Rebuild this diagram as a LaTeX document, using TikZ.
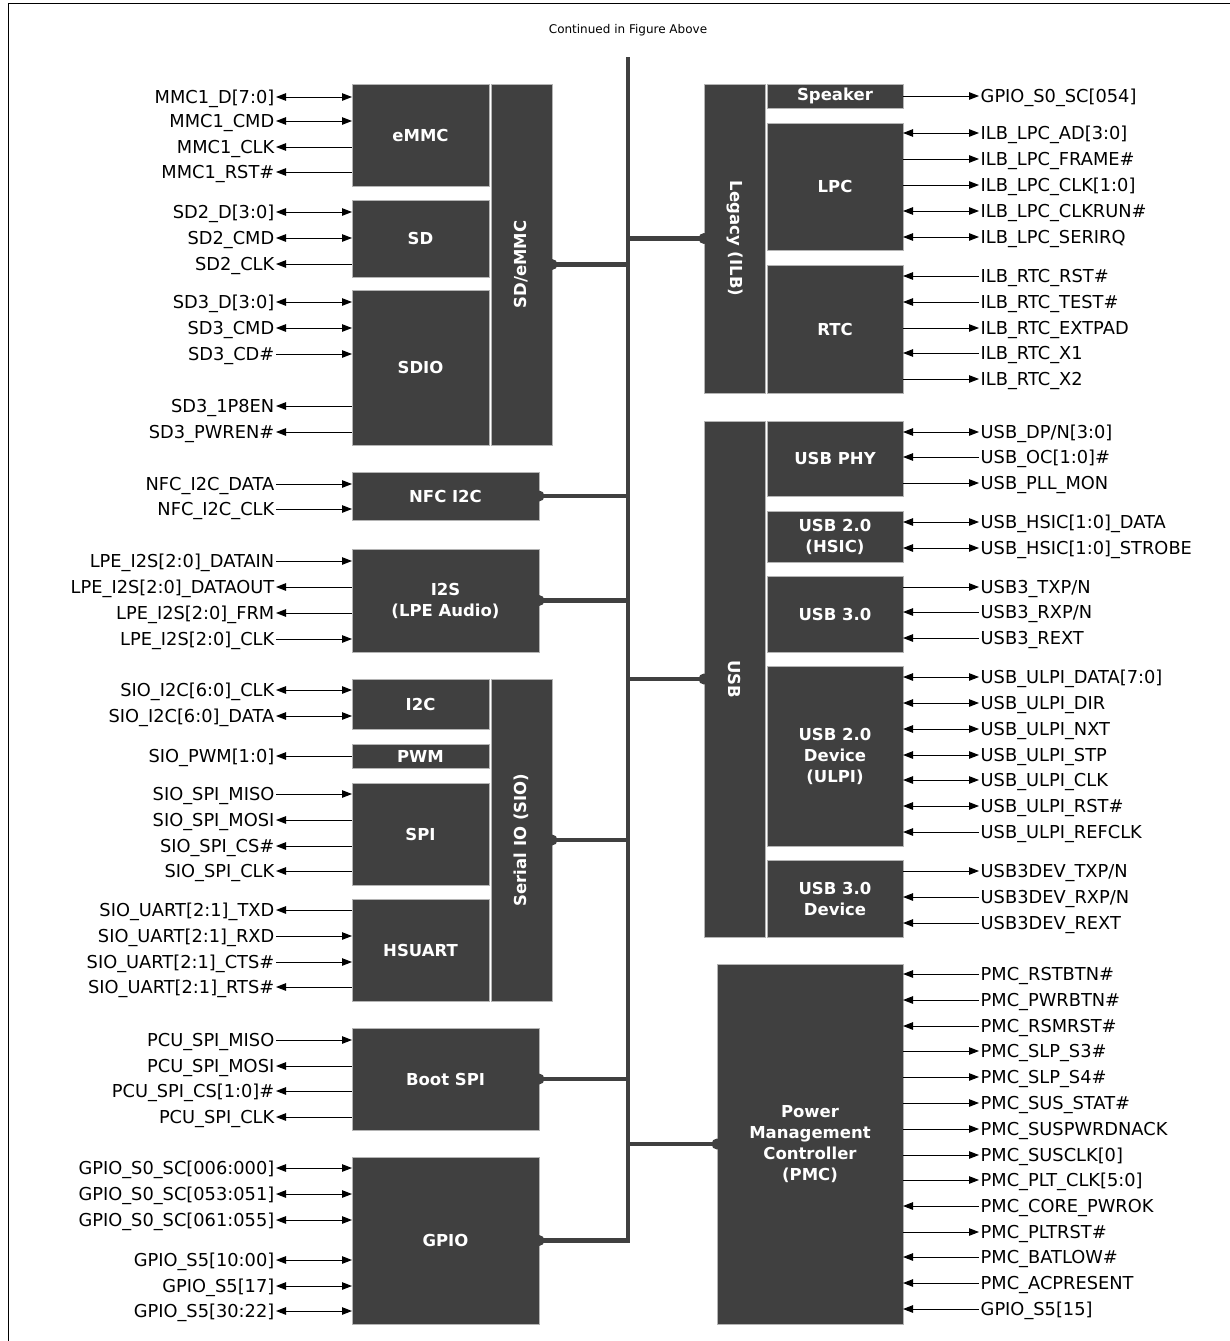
\documentclass[tikz,border=0pt]{standalone}
\usepackage{fontspec}
\setmainfont{DejaVu Sans}
\usepackage{graphicx}
\usetikzlibrary{arrows.meta}
\definecolor{boxgray}{HTML}{404040}
\definecolor{edgegray}{HTML}{B4B4B4}

\newcommand\Blk[6]{\node[blk,anchor=north west,minimum width={(#4-#2)*1pt},minimum height={(#5-#3)*1pt}] (#1) at (#2,#3) {#6};}
\newcommand\Lsig[5]{\node[sigtxt,anchor=east] (#1) at (276,#2) {#5};
  \draw[sigline,#3] (#1.east) -- (#1.east -| #4.west);}
\newcommand\Rsig[5]{\node[sigtxt,anchor=west] (#1) at (979,#2) {#5};
  \draw[sigline,#3] (#4.east |- #1.west) -- (#1.west);}

\begin{document}
\begin{tikzpicture}[x=1pt,y=-1pt,
  >={Triangle[length=10pt,width=7.5pt]},
  blk/.style={fill=boxgray,draw=edgegray,line width=0.8pt,inner sep=0pt,outer sep=0pt,
    text=white,font=\bfseries\fontsize{16.5}{21}\selectfont,align=center},
  sigtxt/.style={font=\fontsize{17.8}{20}\selectfont,inner sep=1.5pt,text height=13pt,text depth=1pt},
  sigline/.style={line width=1pt,black},
  bus/.style={line width=4.5pt,boxgray},
  dot/.style={fill=boxgray}]
\useasboundingbox (0,0) rectangle (1230,1341);
\draw[line width=1pt] (8,1341) -- (8,3) -- (1230,3);
\node[font=\fontsize{12}{14}\selectfont] (cont) at (628,30) {Continued in Figure Above};

% left blocks
\Blk{emmc}{352}{84}{489}{186}{eMMC}
\Blk{sd}{352}{200}{489}{277}{SD}
\Blk{sdio}{352}{290}{489}{445}{SDIO}
\Blk{sdemmc}{491}{84}{552}{445}{\rotatebox{90}{SD/eMMC}}
\Blk{nfc}{352}{472}{539}{520}{NFC I2C}
\Blk{i2s}{352}{549}{539}{652}{I2S\\(LPE Audio)}
\Blk{i2c}{352}{679}{489}{729}{I2C}
\Blk{pwm}{352}{744}{489}{768}{PWM}
\Blk{spi}{352}{783}{489}{885}{SPI}
\Blk{hsuart}{352}{899}{489}{1001}{HSUART}
\Blk{sio}{491}{679}{552}{1001}{\rotatebox{90}{Serial IO (SIO)}}
\Blk{bootspi}{352}{1028}{539}{1130}{Boot SPI}
\Blk{gpio}{352}{1157}{539}{1324}{GPIO}

% right blocks
\Blk{legacy}{704}{84}{765}{393}{\rotatebox{-90}{Legacy (ILB)}}
\Blk{speaker}{767}{84}{903}{108}{\raisebox{-1.5pt}{Speaker}}
\Blk{lpc}{767}{123}{903}{250}{LPC}
\Blk{rtc}{767}{265}{903}{393}{RTC}
\Blk{usb}{704}{421}{765}{937}{\rotatebox{-90}{USB}}
\Blk{usbphy}{767}{421}{903}{496}{USB PHY}
\Blk{hsic}{767}{511}{903}{562}{USB 2.0\\(HSIC)}
\Blk{usbiii}{767}{576}{903}{652}{USB 3.0}
\Blk{ulpi}{767}{666}{903}{846}{USB 2.0\\Device\\(ULPI)}
\Blk{usbdev}{767}{860}{903}{937}{USB 3.0\\Device}
\Blk{pmc}{717}{964}{903}{1324}{Power\\Management\\Controller\\(PMC)}

% bus
\coordinate (bt) at (628,57);
\draw[bus] (bt) |- (gpio.east);
\foreach \b in {sdemmc,nfc,i2s,sio,bootspi}{
  \draw[bus] (\b.east) -- (\b.east -| bt);
  \fill[dot] (\b.east) circle (5.5pt);}
\foreach \b in {legacy,usb,pmc}{
  \draw[bus] (\b.west) -- (\b.west -| bt);
  \fill[dot] (\b.west) circle (5.5pt);}
\fill[dot] (gpio.east) circle (5.5pt);

% left signals
\Lsig{m1}{97}{<->}{emmc}{MMC1\_D[7:0]}
\Lsig{m2}{121}{<->}{emmc}{MMC1\_CMD}
\Lsig{m3}{147}{<-}{emmc}{MMC1\_CLK}
\Lsig{m4}{172}{<-}{emmc}{MMC1\_RST\#}
\Lsig{s1}{212}{<->}{sd}{SD2\_D[3:0]}
\Lsig{s2}{238}{<->}{sd}{SD2\_CMD}
\Lsig{s3}{264}{<-}{sd}{SD2\_CLK}
\Lsig{t1}{302}{<->}{sdio}{SD3\_D[3:0]}
\Lsig{t2}{328}{<->}{sdio}{SD3\_CMD}
\Lsig{t3}{354}{->}{sdio}{SD3\_CD\#}
\Lsig{t4}{406}{<-}{sdio}{SD3\_1P8EN}
\Lsig{t5}{432}{<-}{sdio}{SD3\_PWREN\#}
\Lsig{n1}{484}{->}{nfc}{NFC\_I2C\_DATA}
\Lsig{n2}{509}{->}{nfc}{NFC\_I2C\_CLK}
\Lsig{a1}{561}{->}{i2s}{LPE\_I2S[2:0]\_DATAIN}
\Lsig{a2}{587}{<-}{i2s}{LPE\_I2S[2:0]\_DATAOUT}
\Lsig{a3}{613}{<-}{i2s}{LPE\_I2S[2:0]\_FRM}
\Lsig{a4}{639}{->}{i2s}{LPE\_I2S[2:0]\_CLK}
\Lsig{c1}{690}{<->}{i2c}{SIO\_I2C[6:0]\_CLK}
\Lsig{c2}{716}{<->}{i2c}{SIO\_I2C[6:0]\_DATA}
\Lsig{w1}{756}{<-}{pwm}{SIO\_PWM[1:0]}
\Lsig{p1}{794}{->}{spi}{SIO\_SPI\_MISO}
\Lsig{p2}{820}{<-}{spi}{SIO\_SPI\_MOSI}
\Lsig{p3}{846}{<-}{spi}{SIO\_SPI\_CS\#}
\Lsig{p4}{871}{<-}{spi}{SIO\_SPI\_CLK}
\Lsig{u1}{910}{<-}{hsuart}{SIO\_UART[2:1]\_TXD}
\Lsig{u2}{936}{->}{hsuart}{SIO\_UART[2:1]\_RXD}
\Lsig{u3}{962}{->}{hsuart}{SIO\_UART[2:1]\_CTS\#}
\Lsig{u4}{987}{<-}{hsuart}{SIO\_UART[2:1]\_RTS\#}
\Lsig{b1}{1040}{->}{bootspi}{PCU\_SPI\_MISO}
\Lsig{b2}{1066}{<-}{bootspi}{PCU\_SPI\_MOSI}
\Lsig{b3}{1091}{<-}{bootspi}{PCU\_SPI\_CS[1:0]\#}
\Lsig{b4}{1117}{<-}{bootspi}{PCU\_SPI\_CLK}
\Lsig{g1}{1168}{<->}{gpio}{GPIO\_S0\_SC[006:000]}
\Lsig{g2}{1194}{<->}{gpio}{GPIO\_S0\_SC[053:051]}
\Lsig{g3}{1220}{<->}{gpio}{GPIO\_S0\_SC[061:055]}
\Lsig{g4}{1260}{<->}{gpio}{GPIO\_S5[10:00]}
\Lsig{g5}{1286}{<->}{gpio}{GPIO\_S5[17]}
\Lsig{g6}{1311}{<->}{gpio}{GPIO\_S5[30:22]}

% right signals
\Rsig{k1}{96}{->}{speaker}{GPIO\_S0\_SC[054]}
\Rsig{l1}{133}{<->}{lpc}{ILB\_LPC\_AD[3:0]}
\Rsig{l2}{159}{->}{lpc}{ILB\_LPC\_FRAME\#}
\Rsig{l3}{185}{->}{lpc}{ILB\_LPC\_CLK[1:0]}
\Rsig{l4}{211}{<->}{lpc}{ILB\_LPC\_CLKRUN\#}
\Rsig{l5}{237}{<->}{lpc}{ILB\_LPC\_SERIRQ}
\Rsig{r1}{276}{<-}{rtc}{ILB\_RTC\_RST\#}
\Rsig{r2}{302}{<-}{rtc}{ILB\_RTC\_TEST\#}
\Rsig{r3}{328}{->}{rtc}{ILB\_RTC\_EXTPAD}
\Rsig{r4}{353}{<-}{rtc}{ILB\_RTC\_X1}
\Rsig{r5}{379}{->}{rtc}{ILB\_RTC\_X2}
\Rsig{h1}{432}{<->}{usbphy}{USB\_DP/N[3:0]}
\Rsig{h2}{457}{<-}{usbphy}{USB\_OC[1:0]\#}
\Rsig{h3}{483}{->}{usbphy}{USB\_PLL\_MON}
\Rsig{i1}{522}{<->}{hsic}{USB\_HSIC[1:0]\_DATA}
\Rsig{i2}{548}{<->}{hsic}{USB\_HSIC[1:0]\_STROBE}
\Rsig{v1}{587}{->}{usbiii}{USB3\_TXP/N}
\Rsig{v2}{612}{<-}{usbiii}{USB3\_RXP/N}
\Rsig{v3}{638}{<-}{usbiii}{USB3\_REXT}
\Rsig{e1}{677}{<->}{ulpi}{USB\_ULPI\_DATA[7:0]}
\Rsig{e2}{703}{<->}{ulpi}{USB\_ULPI\_DIR}
\Rsig{e3}{729}{<->}{ulpi}{USB\_ULPI\_NXT}
\Rsig{e4}{755}{<->}{ulpi}{USB\_ULPI\_STP}
\Rsig{e5}{780}{<->}{ulpi}{USB\_ULPI\_CLK}
\Rsig{e6}{806}{<->}{ulpi}{USB\_ULPI\_RST\#}
\Rsig{e7}{832}{<-}{ulpi}{USB\_ULPI\_REFCLK}
\Rsig{d1}{871}{->}{usbdev}{USB3DEV\_TXP/N}
\Rsig{d2}{897}{<-}{usbdev}{USB3DEV\_RXP/N}
\Rsig{d3}{923}{<-}{usbdev}{USB3DEV\_REXT}
\Rsig{q1}{974}{<-}{pmc}{PMC\_RSTBTN\#}
\Rsig{q2}{1000}{<-}{pmc}{PMC\_PWRBTN\#}
\Rsig{q3}{1026}{<-}{pmc}{PMC\_RSMRST\#}
\Rsig{q4}{1051}{->}{pmc}{PMC\_SLP\_S3\#}
\Rsig{q5}{1077}{->}{pmc}{PMC\_SLP\_S4\#}
\Rsig{q6}{1103}{->}{pmc}{PMC\_SUS\_STAT\#}
\Rsig{q7}{1129}{->}{pmc}{PMC\_SUSPWRDNACK}
\Rsig{q8}{1155}{->}{pmc}{PMC\_SUSCLK[0]}
\Rsig{q9}{1180}{->}{pmc}{PMC\_PLT\_CLK[5:0]}
\Rsig{q10}{1206}{<-}{pmc}{PMC\_CORE\_PWROK}
\Rsig{q11}{1232}{->}{pmc}{PMC\_PLTRST\#}
\Rsig{q12}{1257}{<-}{pmc}{PMC\_BATLOW\#}
\Rsig{q13}{1283}{<-}{pmc}{PMC\_ACPRESENT}
\Rsig{q14}{1309}{<-}{pmc}{GPIO\_S5[15]}
\end{tikzpicture}
\end{document}
